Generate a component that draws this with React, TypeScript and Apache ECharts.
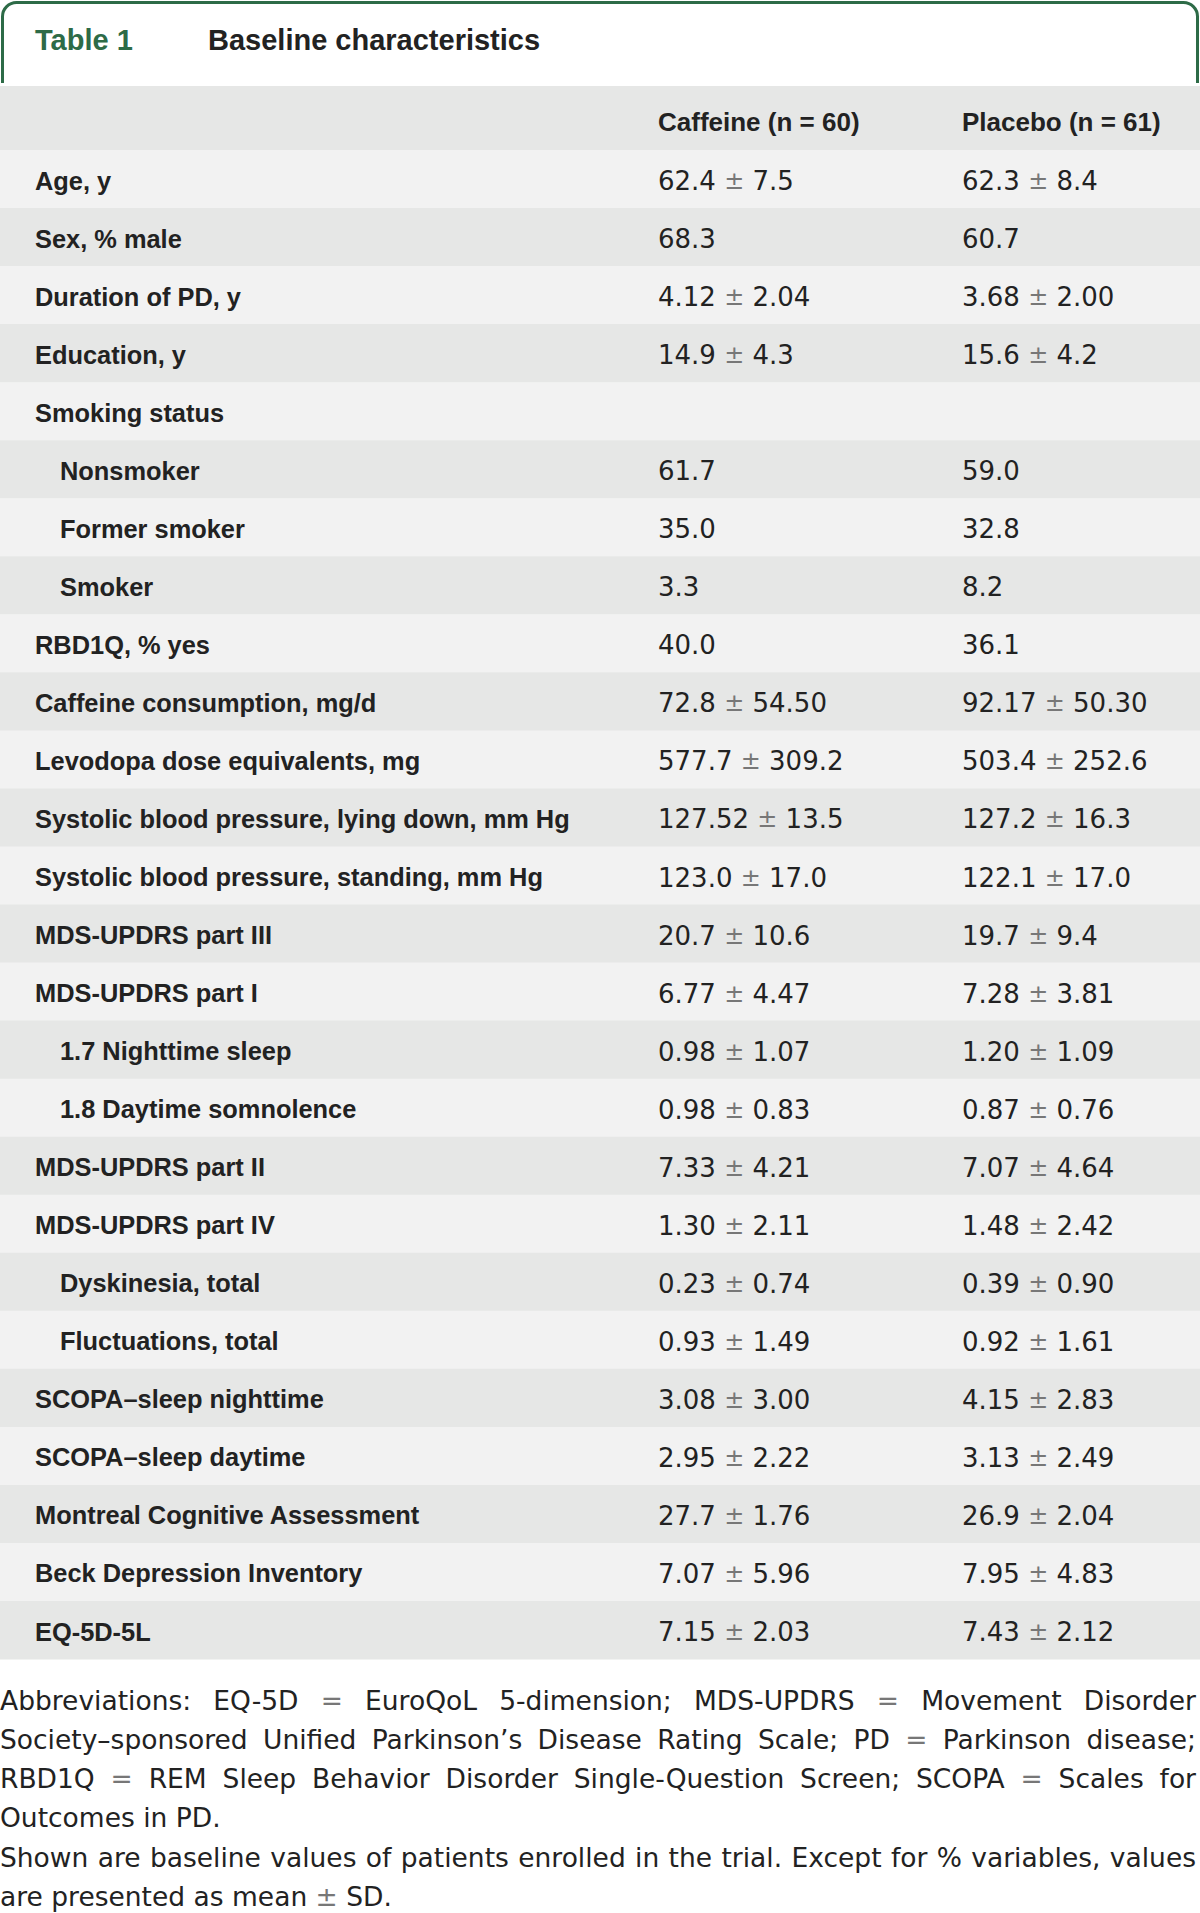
import React, { useEffect, useRef } from "react";
import * as echarts from "echarts";

const tableNumber = "Table 1";
const tableTitle = "Baseline characteristics";
const columnHeaders = ["Caffeine (n = 60)", "Placebo (n = 61)"];

const rowLabels = [
  "Age, y",
  "Sex, % male",
  "Duration of PD, y",
  "Education, y",
  "Smoking status",
  "Nonsmoker",
  "Former smoker",
  "Smoker",
  "RBD1Q, % yes",
  "Caffeine consumption, mg/d",
  "Levodopa dose equivalents, mg",
  "Systolic blood pressure, lying down, mm Hg",
  "Systolic blood pressure, standing, mm Hg",
  "MDS-UPDRS part III",
  "MDS-UPDRS part I",
  "1.7 Nighttime sleep",
  "1.8 Daytime somnolence",
  "MDS-UPDRS part II",
  "MDS-UPDRS part IV",
  "Dyskinesia, total",
  "Fluctuations, total",
  "SCOPA–sleep nighttime",
  "SCOPA–sleep daytime",
  "Montreal Cognitive Assessment",
  "Beck Depression Inventory",
  "EQ-5D-5L",
];

const rowIndent = [0, 0, 0, 0, 0, 1, 1, 1, 0, 0, 0, 0, 0, 0, 0, 1, 1, 0, 0, 1, 1, 0, 0, 0, 0, 0];

const caffeineValues = [
  "62.4 ± 7.5",
  "68.3",
  "4.12 ± 2.04",
  "14.9 ± 4.3",
  "",
  "61.7",
  "35.0",
  "3.3",
  "40.0",
  "72.8 ± 54.50",
  "577.7 ± 309.2",
  "127.52 ± 13.5",
  "123.0 ± 17.0",
  "20.7 ± 10.6",
  "6.77 ± 4.47",
  "0.98 ± 1.07",
  "0.98 ± 0.83",
  "7.33 ± 4.21",
  "1.30 ± 2.11",
  "0.23 ± 0.74",
  "0.93 ± 1.49",
  "3.08 ± 3.00",
  "2.95 ± 2.22",
  "27.7 ± 1.76",
  "7.07 ± 5.96",
  "7.15 ± 2.03",
];

const placeboValues = [
  "62.3 ± 8.4",
  "60.7",
  "3.68 ± 2.00",
  "15.6 ± 4.2",
  "",
  "59.0",
  "32.8",
  "8.2",
  "36.1",
  "92.17 ± 50.30",
  "503.4 ± 252.6",
  "127.2 ± 16.3",
  "122.1 ± 17.0",
  "19.7 ± 9.4",
  "7.28 ± 3.81",
  "1.20 ± 1.09",
  "0.87 ± 0.76",
  "7.07 ± 4.64",
  "1.48 ± 2.42",
  "0.39 ± 0.90",
  "0.92 ± 1.61",
  "4.15 ± 2.83",
  "3.13 ± 2.49",
  "26.9 ± 2.04",
  "7.95 ± 4.83",
  "7.43 ± 2.12",
];

const footnoteLines = [
  "Abbreviations: EQ-5D = EuroQoL 5-dimension; MDS-UPDRS = Movement Disorder",
  "Society–sponsored Unified Parkinson’s Disease Rating Scale; PD = Parkinson disease;",
  "RBD1Q = REM Sleep Behavior Disorder Single-Question Screen; SCOPA = Scales for",
  "Outcomes in PD.",
  "Shown are baseline values of patients enrolled in the trial. Except for % variables, values",
  "are presented as mean ± SD.",
];
const footnoteJustified = [true, true, true, false, true, false];

const W = 1200;
const H = 1913;
const GREEN = "#2d6b47";
const INK = "#222222";
const SYMBOL = "#777777";
const LIGHT_ROW = "#f2f2f2";
const DARK_ROW = "#e6e7e6";
const LABEL_FONT = '"Liberation Sans", Arial, sans-serif';
const VALUE_FONT = '"DejaVu Sans", sans-serif';

const HEADER_TOP = 86;
const TABLE_TOP = 150;
const ROW_H = 58.04;
const COL_X = [658, 962];
const LABEL_X = 35;
const INDENT_X = 60;
const FOOT_SIZE = 26.5;
const FOOT_TOP = 1700;
const FOOT_LH = 39.3;
const FOOT_RIGHT = 1196;

function richValue(s: string) {
  return s.replace(/±/g, "{pm|±}").replace(/ = /g, " {pm|=} ");
}

function buildGraphics() {
  const els: any[] = [];
  els.push({ type: "rect", shape: { x: 0, y: 0, width: W, height: H }, style: { fill: "#ffffff" }, z: 0 });
  // green frame around the caption
  els.push({
    type: "rect",
    shape: { x: 2.5, y: 2.5, width: W - 5, height: 120, r: [14, 14, 0, 0] },
    style: { fill: "none", stroke: GREEN, lineWidth: 3 },
    z: 1,
  });
  els.push({ type: "rect", shape: { x: 0, y: 83, width: W, height: 4 }, style: { fill: "#ffffff" }, z: 2 });
  els.push({ type: "rect", shape: { x: 0, y: HEADER_TOP, width: W, height: TABLE_TOP - HEADER_TOP }, style: { fill: DARK_ROW }, z: 2 });
  els.push({
    type: "rect",
    shape: { x: 0, y: TABLE_TOP + rowLabels.length * ROW_H, width: W, height: 60 },
    style: { fill: "#ffffff" },
    z: 2,
  });

  els.push({
    type: "text", x: 35, y: 40, z: 5,
    style: { text: tableNumber, fill: GREEN, fontFamily: LABEL_FONT, fontWeight: "bold", fontSize: 29, verticalAlign: "middle", align: "left" },
  });
  els.push({
    type: "text", x: 208, y: 40, z: 5,
    style: { text: tableTitle, fill: INK, fontFamily: LABEL_FONT, fontWeight: "bold", fontSize: 29, verticalAlign: "middle", align: "left" },
  });
  columnHeaders.forEach((h, i) => {
    els.push({
      type: "text", x: COL_X[i], y: 121.5, z: 5,
      style: { text: h, fill: INK, fontFamily: LABEL_FONT, fontWeight: "bold", fontSize: 26, verticalAlign: "middle", align: "left" },
    });
  });

  rowLabels.forEach((label, i) => {
    const top = TABLE_TOP + i * ROW_H;
    const cy = top + ROW_H / 2;
    els.push({
      type: "rect",
      shape: { x: 0, y: top, width: W, height: ROW_H + 0.5 },
      style: { fill: i % 2 === 0 ? LIGHT_ROW : DARK_ROW },
      z: 3,
    });
    els.push({
      type: "text", x: rowIndent[i] ? INDENT_X : LABEL_X, y: cy + 1.5, z: 5,
      style: { text: label, fill: INK, fontFamily: LABEL_FONT, fontWeight: "bold", fontSize: 25.4, verticalAlign: "middle", align: "left" },
    });
    [caffeineValues[i], placeboValues[i]].forEach((v, c) => {
      if (!v) return;
      els.push({
        type: "text", x: COL_X[c], y: cy + 2, z: 5,
        style: {
          text: richValue(v),
          fill: INK,
          fontFamily: VALUE_FONT,
          fontSize: 26,
          verticalAlign: "middle",
          align: "left",
          rich: { pm: { fill: SYMBOL, fontFamily: VALUE_FONT, fontSize: 24 } },
        },
      });
    });
  });

  // footnote, justified word by word
  const canvas = document.createElement("canvas");
  const ctx = canvas.getContext("2d") as CanvasRenderingContext2D;
  ctx.font = `${FOOT_SIZE}px "DejaVu Sans"`;
  footnoteLines.forEach((line, li) => {
    const words = line.split(" ");
    const widths = words.map((w) => ctx.measureText(w).width);
    const total = widths.reduce((a, b) => a + b, 0);
    const natGap = ctx.measureText(" ").width;
    const gap = footnoteJustified[li] && words.length > 1 ? (FOOT_RIGHT - total) / (words.length - 1) : natGap;
    let x = 0;
    const y = FOOT_TOP + li * FOOT_LH;
    words.forEach((w, wi) => {
      const isSym = w === "=" || w === "±";
      els.push({
        type: "text", x, y, z: 5,
        style: { text: w, fill: isSym ? SYMBOL : INK, fontFamily: VALUE_FONT, fontSize: FOOT_SIZE, verticalAlign: "middle", align: "left" },
      });
      x += widths[wi] + gap;
    });
  });
  return els;
}

export default function App() {
  const ref = useRef<HTMLDivElement>(null);
  useEffect(() => {
    if (!ref.current) return;
    const chart = echarts.init(ref.current, null, { renderer: "svg" });
    chart.setOption({
      animation: false,
      backgroundColor: "#ffffff",
      graphic: { elements: buildGraphics() },
    });
    return () => chart.dispose();
  }, []);
  return (
    <div
      ref={ref}
      style={{ position: "absolute", left: 0, top: 0, width: W, height: H, background: "#ffffff" }}
    />
  );
}
